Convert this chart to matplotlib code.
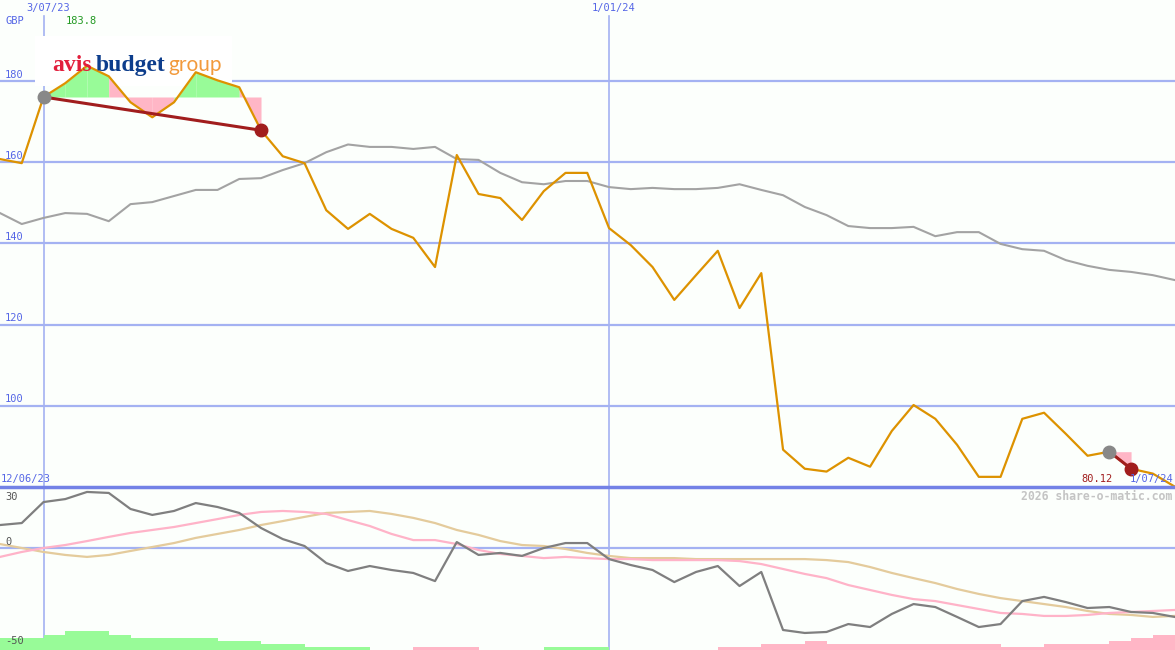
import numpy as np
import matplotlib.pyplot as plt

# weekly closes (GBP), week 0 = 19/06/23, last = 1/07/24
price = [160.8, 159.8, 176.1, 179.5, 183.8, 181.2, 174.8, 171.1, 174.8, 182.2,
         180.2, 178.5, 167.9, 161.5, 159.8, 148.2, 143.6, 147.3, 143.6, 141.4,
         134.2, 161.8, 152.2, 151.2, 145.8, 152.9, 157.4, 157.4, 143.8, 139.6,
         134.2, 126.1, 132.2, 138.2, 124.1, 132.7, 89.2, 84.5, 83.8, 87.2,
         85.0, 93.8, 100.2, 96.8, 90.4, 82.5, 82.5, 96.8, 98.3, 93.1,
         87.7, 88.7, 84.5, 83.3, 80.12]

# relative index line (grey)
index_line = [147.5, 144.8, 146.3, 147.5, 147.3, 145.5, 149.7, 150.2, 151.7, 153.2,
              153.2, 155.9, 156.1, 158.1, 159.8, 162.5, 164.4, 163.8, 163.8, 163.3,
              163.8, 160.8, 160.6, 157.4, 155.1, 154.6, 155.4, 155.4, 153.9, 153.4,
              153.7, 153.4, 153.4, 153.7, 154.6, 153.2, 151.9, 149.0, 147.0, 144.3,
              143.8, 143.8, 144.1, 141.8, 142.8, 142.8, 139.9, 138.6, 138.2, 135.9,
              134.5, 133.5, 133.0, 132.2, 131.0]

# lower panel: momentum and two averages
momentum = [11.6, 12.6, 23.2, 24.7, 28.3, 27.8, 19.7, 16.7, 18.7, 22.7,
            20.7, 17.7, 10.1, 4.5, 1.0, -7.6, -11.6, -9.1, -11.1, -12.6,
            -16.7, 3.0, -3.5, -2.5, -4.0, 0.0, 2.5, 2.5, -5.6, -8.6,
            -11.1, -17.2, -12.1, -9.1, -19.2, -12.1, -41.4, -42.9, -42.4, -38.4,
            -39.9, -33.3, -28.3, -29.8, -34.8, -39.9, -38.4, -26.8, -24.7, -27.3,
            -30.3, -29.8, -32.3, -32.8, -34.8]
avg_fast = [-4.5, -2.0, 0.0, 1.5, 3.5, 5.6, 7.6, 9.1, 10.6, 12.6,
            14.6, 16.7, 18.2, 18.7, 18.2, 17.2, 14.1, 11.1, 7.1, 4.0,
            4.0, 2.0, -1.0, -3.0, -4.0, -5.1, -4.5, -5.1, -5.6, -5.6,
            -6.1, -6.1, -6.1, -6.1, -6.6, -8.1, -10.6, -13.1, -15.2, -18.7,
            -21.2, -23.7, -25.8, -26.8, -28.8, -30.8, -32.8, -33.3, -34.3, -34.3,
            -33.8, -32.8, -32.3, -31.8, -31.3]
avg_slow = [2.0, 0.0, -2.0, -3.5, -4.5, -3.5, -1.5, 0.5, 2.5, 5.1,
            7.1, 9.1, 11.6, 13.6, 15.7, 17.7, 18.2, 18.7, 17.2, 15.2,
            12.6, 9.1, 6.6, 3.5, 1.5, 1.0, -0.5, -2.5, -4.0, -5.1,
            -5.1, -5.1, -5.6, -5.6, -5.6, -5.6, -5.6, -5.6, -6.1, -7.1,
            -9.6, -12.6, -15.2, -17.7, -20.7, -23.2, -25.3, -26.8, -28.3, -29.8,
            -31.8, -33.3, -33.8, -34.8, -34.3]
# histogram at the foot of the lower panel (+ green, - pink)
hist = [6, 6, 7.5, 9.5, 9.5, 7.5, 6, 6, 6, 6,
        4.5, 4.5, 3, 3, 1.5, 1.5, 1.5, 0, 0, -1.5,
        -1.5, -1.5, 0, 0, 0, 1.5, 1.5, 1.5, 0, 0,
        0, 0, 0, -1.5, -1.5, -3, -3, -4.5, -3, -3,
        -3, -3, -3, -3, -3, -3, -1.5, -1.5, -3, -3,
        -3, -4.5, -6, -7.5, -7.5]

price_ticks = [100, 120, 140, 160, 180]
date_marks = {2: '3/07/23', 28: '1/01/24'}
trades = [(2, 12), (51, 52)]   # (buy week, sell week)

weeks = np.arange(len(price))
W, H = 1175, 650

bg = '#fcfffc'
grid_c = '#a4b2f2'
label_c = '#5566e6'
orange = '#dd9200'
green_fill = '#98fb98'
pink_fill = '#ffb6c6'
dark_red = '#a11d1d'

fig = plt.figure(figsize=(W / 100, H / 100), dpi=100, facecolor=bg)
top = fig.add_axes([0, 163 / H, 1, 487 / H], facecolor=bg)
low = fig.add_axes([0, 0, 1, 163 / H], facecolor=bg)

for ax in (top, low):
    ax.set_xlim(0, len(price) - 1 + 0.02)
    ax.set_xticks([])
    ax.set_yticks([])
    for s in ax.spines.values():
        s.set_visible(False)

# ---- top panel ----
top.set_ylim(80, 200)
for v in price_ticks:
    top.axhline(v, color=grid_c, lw=1.6, zorder=1)
    top.text(5 / W, v + 0.4, str(v), transform=top.get_yaxis_transform(),
             color=label_c, fontsize=7.5, family='DejaVu Sans Mono', va='bottom')
for k in date_marks:
    top.axvline(k, ymax=1 - 16 / 487, color=grid_c, lw=1.2, zorder=1)
    low.axvline(k, color=grid_c, lw=1.2, zorder=1)

# logo box hides the 180 line
top.add_patch(plt.Rectangle((35 / W, 1 - 86 / 487), 197 / W, 50 / 487,
                            transform=top.transAxes, color='white', zorder=1.5, lw=0))

# trade fills
for b, s in trades:
    level = price[b]
    for i in range(b, s):
        c = green_fill if price[i + 1] > level else pink_fill
        top.fill_between([weeks[i], weeks[i + 1]], [price[i], price[i + 1]], level,
                         color=c, lw=0, zorder=2)

top.plot(weeks, index_line, color='#a3a3a3', lw=1.5, zorder=3)
top.plot(weeks, price, color=orange, lw=1.6, zorder=4)

for b, s in trades:
    top.plot([b, s], [price[b], price[s]], color=dark_red, lw=2.2, zorder=5)
    top.plot(b, price[b], 'o', color='#888888', ms=9, zorder=6)
    top.plot(s, price[s], 'o', color=dark_red, ms=9, zorder=6)

# ---- lower panel ----
low.set_ylim(-51.5, 30.8)
low.axhline(0, color=grid_c, lw=1.6, zorder=1)
low.axhline(30.8, color='#7382e6', lw=2.5, zorder=6, clip_on=False)
hist = np.array(hist)
low.bar(weeks, np.abs(hist), width=1, align='edge', bottom=-51.5,
        color=[green_fill if h > 0 else pink_fill for h in hist], lw=0, zorder=2)
low.plot(weeks, avg_slow, color='#e4cb9c', lw=1.6, zorder=3)
low.plot(weeks, avg_fast, color='#ffb3c8', lw=1.6, zorder=3)
low.plot(weeks, momentum, color='#7f7f7f', lw=1.6, zorder=4)
for v, lab in [(26, '30'), (3, '0'), (-47, '-50')]:
    low.text(5 / W, v, lab, transform=low.get_yaxis_transform(), color='#555555',
             fontsize=7.5, family='DejaVu Sans Mono', va='center')


def ftext(x, y, s, **kw):
    fig.text(x / W, 1 - y / H, s, **kw)


mono = dict(family='DejaVu Sans Mono', fontsize=7.5, va='center')
for k, lab in date_marks.items():
    ftext(k * (W - 1) / (len(price) - 1) + 5, 8, lab, color=label_c, ha='center', **mono)
ftext(5, 21, 'GBP', color=label_c, ha='left', **mono)
ftext(66, 21, '%.1f' % max(price), color='#229922', ha='left', **mono)
ftext(1, 479, '12/06/23', color=label_c, ha='left', **mono)
ftext(1113, 479, '%.2f' % price[-1], color=dark_red, ha='right', **mono)
ftext(1173, 479, '1/07/24', color=label_c, ha='right', **mono)
ftext(1172, 496, '2026 share-o-matic.com', color='#c4c4c4', ha='right',
      family='DejaVu Sans Mono', fontsize=8.3, fontweight='bold', va='center')

# logo
ftext(52, 71, 'avis', color='#e21e3c', family='Liberation Serif', fontweight='bold',
      fontsize=17, va='baseline', ha='left', zorder=10)
ftext(96, 71, 'budget', color='#0d3d8c', family='Liberation Serif', fontweight='bold',
      fontsize=17, va='baseline', ha='left', zorder=10)
ftext(168, 71, 'group', color='#f29a3c', family='Lato', fontweight='normal',
      fontsize=15, va='baseline', ha='left', zorder=10)

fig.savefig('out.png', dpi=100, facecolor=bg)
